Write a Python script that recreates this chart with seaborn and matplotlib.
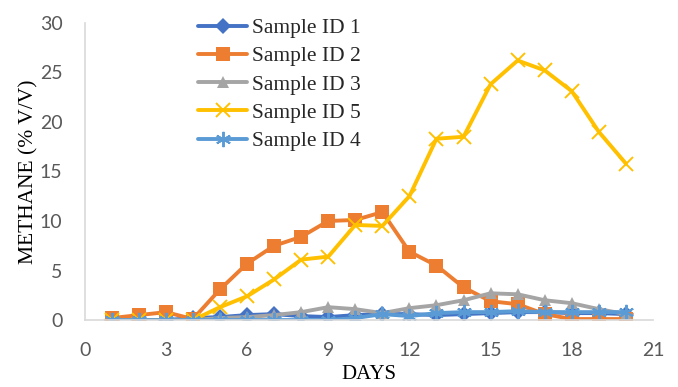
import pandas as pd
import matplotlib.pyplot as plt
import seaborn as sns

# Methane content per sample over 20 days
days = list(range(1, 21))
sample_1 = [0.0, 0.0, 0.0, 0.2, 0.3, 0.5, 0.6, 0.4, 0.3, 0.5, 0.6, 0.6, 0.5, 0.6, 0.7, 0.8, 0.8, 0.7, 0.7, 0.6]
sample_2 = [0.2, 0.5, 0.8, 0.1, 3.1, 5.7, 7.5, 8.4, 10.0, 10.1, 10.9, 6.9, 5.5, 3.3, 1.9, 1.6, 0.6, 0.1, 0.1, 0.1]
sample_3 = [0.0, 0.0, 0.0, 0.0, 0.2, 0.3, 0.5, 0.8, 1.3, 1.1, 0.7, 1.2, 1.5, 2.0, 2.7, 2.6, 2.0, 1.7, 1.1, 0.6]
sample_5 = [0.0, 0.0, 0.0, 0.0, 1.3, 2.4, 4.1, 6.1, 6.4, 9.6, 9.5, 12.5, 18.3, 18.5, 23.8, 26.2, 25.2, 23.1, 19.0, 15.8]
sample_4 = [0.0, 0.0, 0.0, 0.0, 0.0, 0.0, 0.0, 0.0, 0.0, 0.2, 0.6, 0.4, 0.7, 0.8, 0.8, 0.9, 0.8, 0.8, 0.8, 0.8]

series = [
    ('Sample ID 1', sample_1, '#4472C4', 'D', 8),
    ('Sample ID 2', sample_2, '#ED7D31', 's', 10),
    ('Sample ID 3', sample_3, '#A5A5A5', '^', 9),
    ('Sample ID 5', sample_5, '#FFC000', 'x', 10),
    ('Sample ID 4', sample_4, '#5B9BD5', '*', 11),
]

sns.set_style('white')
plt.rcParams['font.family'] = ['Lato', 'DejaVu Sans']

fig = plt.figure(figsize=(6.78, 3.87), dpi=100)
ax = fig.add_axes([0.125, 0.173, 0.838, 0.768])

for name, vals, color, mk, ms in series:
    df = pd.DataFrame({'day': days, 'value': vals})
    if mk == '*':
        # asterisk-like marker (6 spokes)
        sns.lineplot(data=df, x='day', y='value', ax=ax, color=color, lw=2.8,
                     marker=(6, 2, 0), markersize=ms, markeredgewidth=1.4,
                     markeredgecolor=color, label=name)
    elif mk == 'x':
        sns.lineplot(data=df, x='day', y='value', ax=ax, color=color, lw=2.8,
                     marker='x', markersize=ms, markeredgewidth=1.4,
                     markeredgecolor=color, label=name)
    else:
        sns.lineplot(data=df, x='day', y='value', ax=ax, color=color, lw=2.8,
                     marker=mk, markersize=ms, markeredgewidth=0,
                     markerfacecolor=color, label=name)

ax.set_xlim(0, 21)
ax.set_ylim(0, 30)
ax.set_xticks(range(0, 22, 3))
ax.set_yticks(range(0, 31, 5))
ax.tick_params(axis='x', labelsize=14, colors='#595959', length=0, pad=16)
ax.tick_params(axis='y', labelsize=14, colors='#595959', length=0, pad=16)

for side in ['top', 'right']:
    ax.spines[side].set_visible(False)
for side in ['left', 'bottom']:
    ax.spines[side].set_color('#D9D9D9')
    ax.spines[side].set_linewidth(1.2)

ax.set_xlabel('DAYS', family='Liberation Serif', fontsize=15, color='black', labelpad=4)
ax.set_ylabel('METHANE (% V/V)', family='Liberation Serif', fontsize=15.5, color='black', labelpad=1)

leg = ax.legend(loc='upper left', bbox_to_anchor=(0.18, 1.052), frameon=False,
                prop={'family': 'Liberation Serif', 'size': 15.5},
                handlelength=2.3, handletextpad=0.2, labelspacing=0.38, borderpad=0)

fig.savefig('out.png', dpi=100)
